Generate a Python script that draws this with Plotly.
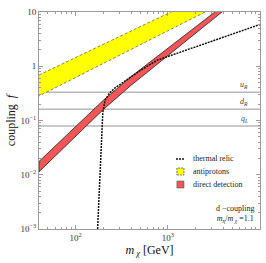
import numpy as np
import plotly.graph_objects as go

# ---- data ----
relic_m = [173, 183, 193, 197, 209, 234, 267, 357, 501, 764, 1585, 3162, 10000]
relic_f = [0.001, 0.01, 0.063, 0.141, 0.24, 0.324, 0.398, 0.562, 0.832, 1.29, 2.0, 3.02, 5.89]

pbar_m = [40, 100, 300, 1000, 3000]
pbar_up = [0.69, 1.46, 3.53, 9.4, 22.7]
pbar_lo = [0.283, 0.624, 1.60, 4.5, 11.5]

dd_m = [40, 60, 100, 200, 400, 1000, 2000, 4000]
dd_up = [0.01758, 0.0341, 0.0776, 0.2371, 0.6457, 2.188, 5.37, 13.18]
dd_lo = [0.01135, 0.02223, 0.0513, 0.1603, 0.4467, 1.585, 4.07, 10.47]

hline_names = ["<i>u</i><sub><i>R</i></sub>", "<i>d</i><sub><i>R</i></sub>", "<i>q</i><sub><i>L</i></sub>"]
hline_vals = [0.331, 0.161, 0.079]

x_range = [40, 10000]
y_range = [1e-3, 10]
x_ticks = [100, 1000, 10000]
x_ticktext = ["10<sup>2</sup>", "10<sup>3</sup>", "10<sup>4</sup>"]
y_ticks = [1e-3, 1e-2, 0.1, 1, 10]
y_ticktext = ["10<sup>−3</sup>", "10<sup>−2</sup>", "10<sup>−1</sup>", "1", "10"]

FONT = "Liberation Serif"
GRAY_LINE = "#b8b8b8"
FRAME = "#9a9a9a"
TXT = "#333333"

fig = go.Figure()

# horizontal coupling lines
for v in hline_vals:
    fig.add_trace(go.Scatter(x=x_range, y=[v, v], mode="lines",
                             line=dict(color=GRAY_LINE, width=1.5),
                             hoverinfo="skip", showlegend=False))

# antiprotons band
fig.add_trace(go.Scatter(x=pbar_m + pbar_m[::-1], y=pbar_up + pbar_lo[::-1],
                         fill="toself", fillcolor="#ffff00", mode="lines",
                         line=dict(color="#555533", width=0.7, dash="3px,2px"),
                         showlegend=False))

# direct detection band
fig.add_trace(go.Scatter(x=dd_m + dd_m[::-1] + [dd_m[0]], y=dd_up + dd_lo[::-1] + [dd_up[0]],
                         fill="toself", fillcolor="#f25656", mode="lines",
                         line=dict(color="#222222", width=0.8),
                         showlegend=False))

# thermal relic
fig.add_trace(go.Scatter(x=relic_m, y=relic_f, mode="lines",
                         line=dict(color="#111111", width=1.5, dash="2px,1px"),
                         showlegend=False))

minor_x = [k * 10 ** e for e in range(1, 4) for k in range(2, 10) if 40 <= k * 10 ** e <= 10000]
minor_y = [k * 10 ** e for e in range(-3, 1) for k in range(2, 10)]

axis_common = dict(type="log", showgrid=False, zeroline=False, showline=True,
                   linecolor=FRAME, linewidth=1, mirror="allticks",
                   ticks="inside", ticklen=4, tickcolor=FRAME, tickwidth=0.8,
                   tickfont=dict(family=FONT, size=9, color=TXT))

fig.update_xaxes(**axis_common, range=[np.log10(x_range[0]), np.log10(x_range[1])],
                 tickmode="array", tickvals=x_ticks, ticktext=x_ticktext,
                 minor=dict(tickmode="array", tickvals=minor_x, ticks="inside",
                            ticklen=2, tickcolor=FRAME, tickwidth=0.6, showgrid=False),
                 title=dict(text="<i>m</i><sub> <i>χ</i></sub> [GeV]", standoff=2,
                            font=dict(family=FONT, size=12, color="#111")))
fig.update_yaxes(**axis_common, range=[np.log10(y_range[0]), np.log10(y_range[1])],
                 tickmode="array", tickvals=y_ticks, ticktext=y_ticktext,
                 minor=dict(tickmode="array", tickvals=minor_y, ticks="inside",
                            ticklen=2, tickcolor=FRAME, tickwidth=0.6, showgrid=False),
                 title=dict(text="coupling  <i>f</i>", standoff=2,
                            font=dict(family=FONT, size=12, color="#111")))

ann = []
# labels of horizontal lines
for name, v in zip(hline_names, hline_vals):
    ann.append(dict(x=0.955, xref="paper", y=np.log10(v), yref="y", text=name,
                    showarrow=False, xanchor="right", yanchor="bottom", yshift=0,
                    font=dict(family=FONT, size=8, color="#444")))

# custom legend
leg_font = dict(family=FONT, size=8, color="#222")
ann += [
    dict(x=0.688, y=0.323, xref="paper", yref="paper", text="thermal relic", showarrow=False,
         xanchor="left", yanchor="middle", font=leg_font),
    dict(x=0.688, y=0.264, xref="paper", yref="paper", text="antiprotons", showarrow=False,
         xanchor="left", yanchor="middle", font=leg_font),
    dict(x=0.688, y=0.203, xref="paper", yref="paper", text="direct detection", showarrow=False,
         xanchor="left", yanchor="middle", font=leg_font),
    dict(x=0.985, y=0.07, xref="paper", yref="paper",
         text="d −coupling<br><i>m</i><sub><i>η</i></sub>/<i>m</i><sub> <i>χ</i></sub> =1.1",
         showarrow=False, xanchor="right", yanchor="middle", align="center",
         font=dict(family=FONT, size=8, color="#222")),
]

shapes = [
    dict(type="line", xref="paper", yref="paper", x0=0.62, x1=0.656, y0=0.323, y1=0.323,
         line=dict(color="#111", width=1.5, dash="2px,1px")),
    dict(type="rect", xref="paper", yref="paper", x0=0.624, x1=0.656, y0=0.249, y1=0.281,
         fillcolor="#ffff00", line=dict(color="#555533", width=0.8, dash="2px,1px")),
    dict(type="rect", xref="paper", yref="paper", x0=0.624, x1=0.656, y0=0.189, y1=0.221,
         fillcolor="#f25656", line=dict(color="#555", width=0.6)),
]

fig.update_layout(width=266, height=263, margin=dict(l=39, r=6, t=12, b=34),
                  paper_bgcolor="white", plot_bgcolor="white",
                  annotations=ann, shapes=shapes, showlegend=False)

fig.write_html("out.html", config={"displayModeBar": False},
               post_script="document.body.style.margin='0';document.body.style.padding='0';")
